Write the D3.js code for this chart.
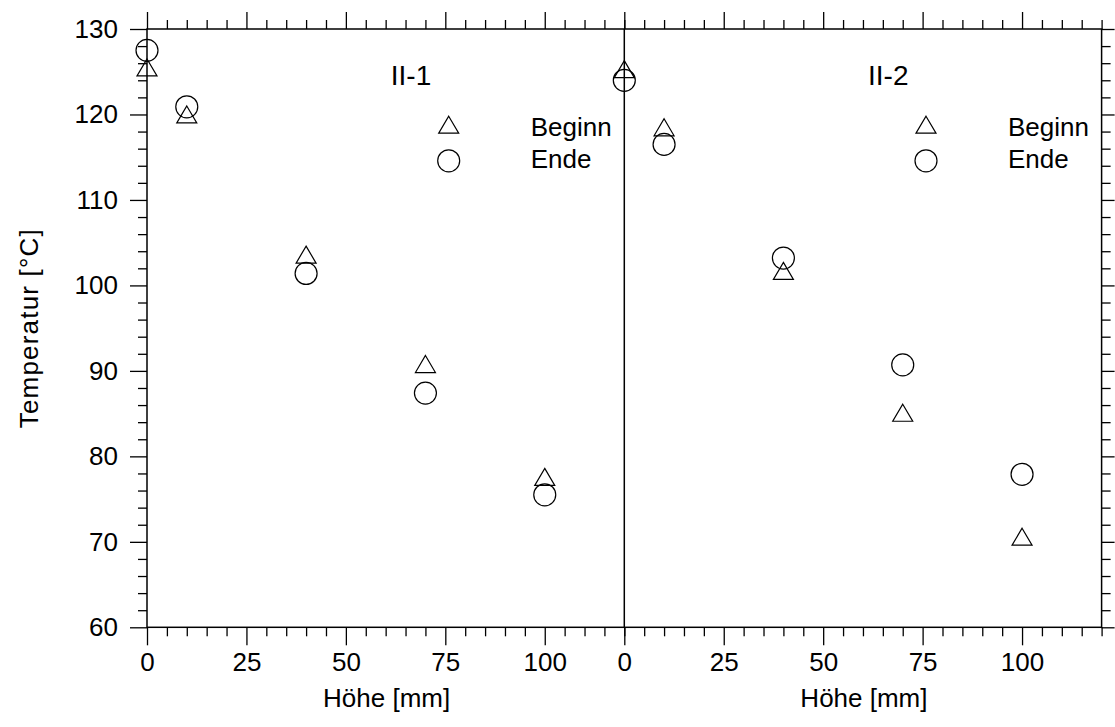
<!DOCTYPE html>
<html>
<head>
<meta charset="utf-8">
<script src="https://cdn.jsdelivr.net/npm/d3@7"></script>
<style>
  body { margin: 0; background: #fff; }
  text { font-family: "Liberation Sans", Arial, Helvetica, sans-serif; fill: #000; }
</style>
</head>
<body>
<svg id="chart" width="1115" height="727"></svg>
<script>
// Measurement heights (mm) and temperatures (°C) for both test series
const heights = [0, 10, 40, 70, 100];
const panelNames = ["II-1", "II-2"];
const beginII1 = [125.5, 120.0, 103.6, 90.8, 77.6];
const endII1   = [127.5, 120.9, 101.4, 87.4, 75.5];
const beginII2 = [125.3, 118.5, 101.7, 85.1, 70.6];
const endII2   = [124.0, 116.5, 103.2, 90.7, 77.9];
const seriesNames = ["Beginn", "Ende"];
const xMajorTicks = [0, 25, 50, 75, 100];
const xMinorTicks = d3.range(0, 121, 5);
const yMajorTicks = [60, 70, 80, 90, 100, 110, 120, 130];
const yMinorTicks = d3.range(60, 131, 2);
const xTitle = "Höhe [mm]";
const yTitle = "Temperatur [°C]";

const panels = [
  { name: panelNames[0], begin: beginII1, end: endII1 },
  { name: panelNames[1], begin: beginII2, end: endII2 }
];

const svg = d3.select("#chart");
const plotLeft = 147, plotTop = 29, panelW = 477.3, plotH = 598.3;
const plotBottom = plotTop + plotH;
const plotRight = plotLeft + 2 * panelW;
const fontSize = 26;

const y = d3.scaleLinear().domain([60, 130]).range([plotBottom, plotTop]);

// Triangle outline whose bounding box is centred on the data point
function trianglePath(w, h) {
  return `M0,${-h / 2}L${w / 2},${h / 2}L${-w / 2},${h / 2}Z`;
}
const triW = 20, triH = 17, circR = 11;

function drawMarkers(g, x, xs, vals, kind) {
  const pts = xs.map((d, i) => [d, vals[i]]);
  if (kind === "tri") {
    g.selectAll(null).data(pts).enter().append("path")
      .attr("d", trianglePath(triW, triH))
      .attr("transform", d => `translate(${x(d[0])},${y(d[1])})`)
      .attr("fill", "none").attr("stroke", "#000").attr("stroke-width", 1.2);
  } else {
    g.selectAll(null).data(pts).enter().append("circle")
      .attr("cx", d => x(d[0])).attr("cy", d => y(d[1]))
      .attr("r", circR)
      .attr("fill", "none").attr("stroke", "#000").attr("stroke-width", 1.2);
  }
}

function styleAxis(g) {
  g.select(".domain").remove();
  g.selectAll("line").attr("stroke", "#000").attr("stroke-width", 1.3);
  g.selectAll("text").attr("font-size", fontSize).attr("fill", "#000")
    .attr("font-family", "\"Liberation Sans\", Arial, sans-serif");
}

panels.forEach((p, i) => {
  const x0 = plotLeft + i * panelW;
  const x = d3.scaleLinear().domain([0, 120]).range([x0, x0 + panelW]);
  const minor = xMinorTicks.filter(t => !xMajorTicks.includes(t));

  // bottom ticks: minor, then major with labels
  svg.append("g").attr("transform", `translate(0,${plotBottom})`)
    .call(d3.axisBottom(x).tickValues(minor).tickSize(9).tickFormat(""))
    .call(styleAxis);
  svg.append("g").attr("transform", `translate(0,${plotBottom})`)
    .call(d3.axisBottom(x).tickValues(xMajorTicks).tickSize(18).tickPadding(7).tickFormat(d3.format("d")))
    .call(styleAxis);

  // top ticks
  svg.append("g").attr("transform", `translate(0,${plotTop})`)
    .call(d3.axisTop(x).tickValues(minor).tickSize(9).tickFormat(""))
    .call(styleAxis);
  svg.append("g").attr("transform", `translate(0,${plotTop})`)
    .call(d3.axisTop(x).tickValues(xMajorTicks).tickSize(17).tickFormat(""))
    .call(styleAxis);

  // x-axis title
  svg.append("text")
    .attr("x", x0 + panelW / 2 + 1).attr("y", 707)
    .attr("text-anchor", "middle").attr("font-size", fontSize)
    .text(xTitle);

  // panel label
  svg.append("text")
    .attr("x", x0 + 264).attr("y", 85)
    .attr("text-anchor", "middle").attr("font-size", 28)
    .text(p.name);

  // data
  const g = svg.append("g");
  drawMarkers(g, x, heights, p.begin, "tri");
  drawMarkers(g, x, heights, p.end, "circ");

  // legend
  const lg = svg.append("g").attr("transform", `translate(${x0 + 301.7},0)`);
  lg.append("path").attr("d", trianglePath(triW, triH))
    .attr("transform", "translate(0,124.7)")
    .attr("fill", "none").attr("stroke", "#000").attr("stroke-width", 1.2);
  lg.append("circle").attr("cx", 0).attr("cy", 160.8).attr("r", circR)
    .attr("fill", "none").attr("stroke", "#000").attr("stroke-width", 1.2);
  lg.append("text").attr("x", 82).attr("y", 136).attr("font-size", fontSize).text(seriesNames[0]);
  lg.append("text").attr("x", 82).attr("y", 168).attr("font-size", fontSize).text(seriesNames[1]);
});

// left y axis with labels
svg.append("g").attr("transform", `translate(${plotLeft},0)`)
  .call(d3.axisLeft(y).tickValues(yMinorTicks.filter(t => t % 10 !== 0)).tickSize(9).tickFormat(""))
  .call(styleAxis);
svg.append("g").attr("transform", `translate(${plotLeft},0)`)
  .call(d3.axisLeft(y).tickValues(yMajorTicks).tickSize(17).tickPadding(12).tickFormat(d3.format("d")))
  .call(styleAxis);

// right y axis ticks
svg.append("g").attr("transform", `translate(${plotRight},0)`)
  .call(d3.axisRight(y).tickValues(yMinorTicks.filter(t => t % 10 !== 0)).tickSize(9).tickFormat(""))
  .call(styleAxis);
svg.append("g").attr("transform", `translate(${plotRight},0)`)
  .call(d3.axisRight(y).tickValues(yMajorTicks).tickSize(13).tickFormat(""))
  .call(styleAxis);

// frame and panel divider
svg.append("rect")
  .attr("x", plotLeft).attr("y", plotTop).attr("width", plotRight - plotLeft).attr("height", plotH)
  .attr("fill", "none").attr("stroke", "#000").attr("stroke-width", 1.5);
svg.append("line")
  .attr("x1", plotLeft + panelW).attr("x2", plotLeft + panelW)
  .attr("y1", plotTop).attr("y2", plotBottom)
  .attr("stroke", "#000").attr("stroke-width", 1.5);

// y-axis title
svg.append("text")
  .attr("transform", `translate(38,${(plotTop + plotBottom) / 2}) rotate(-90)`)
  .attr("text-anchor", "middle").attr("font-size", fontSize)
  .attr("letter-spacing", 1.2)
  .text(yTitle);
</script>
</body>
</html>
